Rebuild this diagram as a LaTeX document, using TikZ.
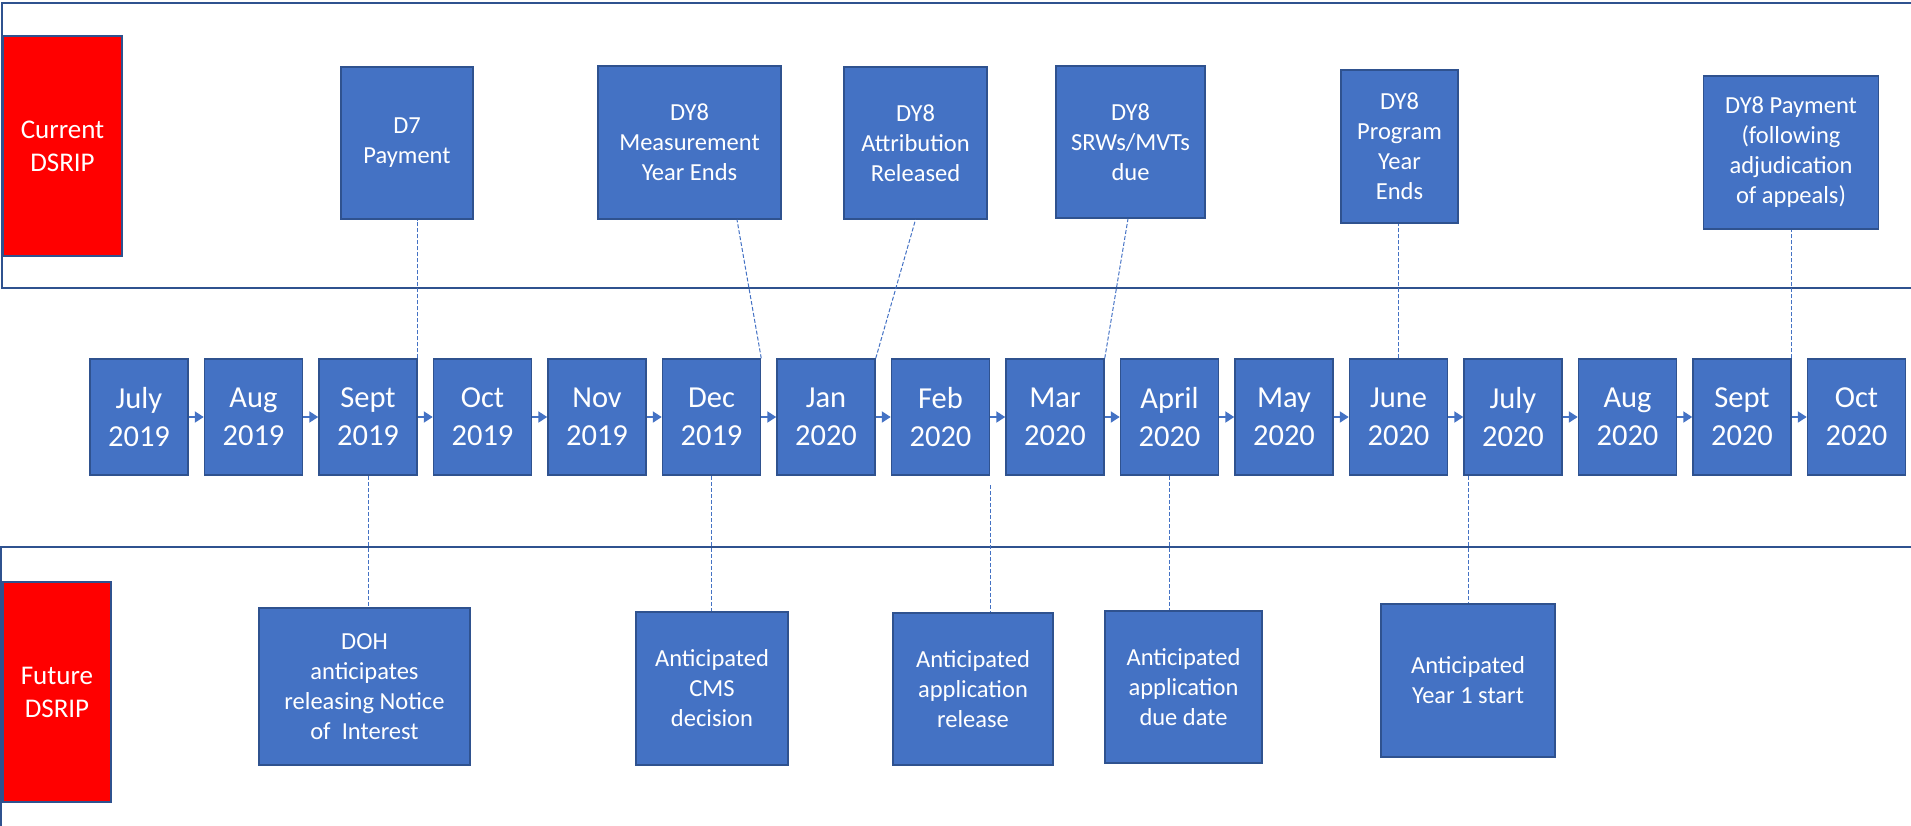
\documentclass[tikz,border=0pt]{standalone}
\usepackage{xcolor}
\usepackage{fontspec}
\setmainfont{Carlito}
\usetikzlibrary{arrows.meta}

\definecolor{boxblue}{HTML}{4472C4}
\definecolor{edgeblue}{HTML}{2F528F}
\definecolor{alertred}{HTML}{FF0000}

\begin{document}
\begin{tikzpicture}[x=0.5pt, y=-0.5pt, node distance=57.25pt,
    month/.style={draw=edgeblue, line width=0.75pt, rectangle, fill=boxblue, text=white, minimum width=49pt, minimum height=58pt, inner sep=0pt, align=center, font=\fontsize{15.25pt}{19pt}\selectfont},
    event/.style={draw=edgeblue, line width=0.75pt, rectangle, fill=boxblue, text=white, inner sep=0pt, align=center, font=\fontsize{12.25pt}{15pt}\selectfont},
    phase/.style={draw=edgeblue, line width=0.75pt, rectangle, fill=alertred, text=white, inner sep=0pt, align=center, font=\fontsize{13.5pt}{16.5pt}\selectfont},
    panel/.style={draw=edgeblue, line width=1pt},
    link/.style={boxblue, line width=0.5pt, dash pattern=on 2pt off 1pt},
    flow/.style={boxblue, line width=1pt, -{Triangle[length=4.5pt, width=5.5pt]}}]
    \useasboundingbox (0,0) rectangle (1911,825);

    \draw[panel] (2,3) rectangle (1930,288);
    \draw[panel] (1,547) rectangle (1930,850);

    \node (curdsrip) [phase, minimum width=59.5pt, minimum height=110pt] at (62.5,146) {Current\\DSRIP};
    \node (futdsrip) [phase, minimum width=54pt, minimum height=110pt] at (57,692) {Future\\DSRIP};

    \node (jul19) [month] at (139,417) {July\\2019};
    \node (aug19) [month, right of=jul19] {Aug\\2019};
    \node (sep19) [month, right of=aug19] {Sept\\2019};
    \node (oct19) [month, right of=sep19] {Oct\\2019};
    \node (nov19) [month, right of=oct19] {Nov\\2019};
    \node (dec19) [month, right of=nov19] {Dec\\2019};
    \node (jan20) [month, right of=dec19] {Jan\\2020};
    \node (feb20) [month, right of=jan20] {Feb\\2020};
    \node (mar20) [month, right of=feb20] {Mar\\2020};
    \node (apr20) [month, right of=mar20] {April\\2020};
    \node (may20) [month, right of=apr20] {May\\2020};
    \node (jun20) [month, right of=may20] {June\\2020};
    \node (jul20) [month, right of=jun20] {July\\2020};
    \node (aug20) [month, right of=jul20] {Aug\\2020};
    \node (sep20) [month, right of=aug20] {Sept\\2020};
    \node (oct20) [month, right of=sep20] {Oct\\2020};

    \draw[flow] (jul19) -- (aug19);
    \draw[flow] (aug19) -- (sep19);
    \draw[flow] (sep19) -- (oct19);
    \draw[flow] (oct19) -- (nov19);
    \draw[flow] (nov19) -- (dec19);
    \draw[flow] (dec19) -- (jan20);
    \draw[flow] (jan20) -- (feb20);
    \draw[flow] (feb20) -- (mar20);
    \draw[flow] (mar20) -- (apr20);
    \draw[flow] (apr20) -- (may20);
    \draw[flow] (may20) -- (jun20);
    \draw[flow] (jun20) -- (jul20);
    \draw[flow] (jul20) -- (aug20);
    \draw[flow] (aug20) -- (sep20);
    \draw[flow] (sep20) -- (oct20);

    \node (d7pay) [event, minimum width=66pt, minimum height=76pt] at (407,143) {D7\\Payment};
    \node (dymeas) [event, minimum width=91.5pt, minimum height=76.5pt] at (689.5,142.5) {DY8\\Measurement\\Year Ends};
    \node (dyattr) [event, minimum width=71.5pt, minimum height=76pt] at (915.5,143) {DY8\\Attribution\\Released};
    \node (dysrw) [event, minimum width=74.5pt, minimum height=76pt] at (1130.5,142) {DY8\\SRWs/MVTs\\due};
    \node (dyprog) [event, minimum width=58.5pt, minimum height=76.5pt] at (1399.5,146.5) {DY8\\Program\\Year\\Ends};
    \node (dypay) [event, minimum width=87.5pt, minimum height=76.5pt] at (1791,152.5) {DY8 Payment\\(following\\adjudication\\of appeals)};

    \node (dohnoi) [event, minimum width=105.5pt, minimum height=78.5pt] at (364.5,686.5) {DOH\\anticipates\\releasing Notice\\of \ Interest};
    \node (cmsdec) [event, minimum width=76pt, minimum height=76.5pt] at (712,688.5) {Anticipated\\CMS\\decision};
    \node (apprel) [event, minimum width=80pt, minimum height=76pt] at (973,689) {Anticipated\\application\\release};
    \node (appdue) [event, minimum width=78.5pt, minimum height=76pt] at (1183.5,687) {Anticipated\\application\\due date};
    \node (yrone) [event, minimum width=87pt, minimum height=76.5pt] at (1468,680.5) {Anticipated\\Year 1 start};

    \draw[link] (sep19.north east) -- (sep19.north east |- d7pay.south);
    \draw[link] (dec19.north east) -- ([xshift=23.75pt]dymeas.south);
    \draw[link] (jan20.north east) -- (dyattr.south);
    \draw[link] (mar20.north east) -- ([xshift=-1.25pt]dysrw.south);
    \draw[link] (jun20.north) -- (jun20.north |- dyprog.south);
    \draw[link] (sep20.north east) -- (sep20.north east |- dypay.south);

    \draw[link] (sep19.south) -- (sep19.south |- dohnoi.north);
    \draw[link] (dec19.south) -- (dec19.south |- cmsdec.north);
    \draw[link] ([yshift=-4.5pt]feb20.south east) -- (feb20.south east |- apprel.north);
    \draw[link] (apr20.south) -- (apr20.south |- appdue.north);
    \draw[link] (yrone.north |- jul20.south) -- (yrone.north);
\end{tikzpicture}
\end{document}
